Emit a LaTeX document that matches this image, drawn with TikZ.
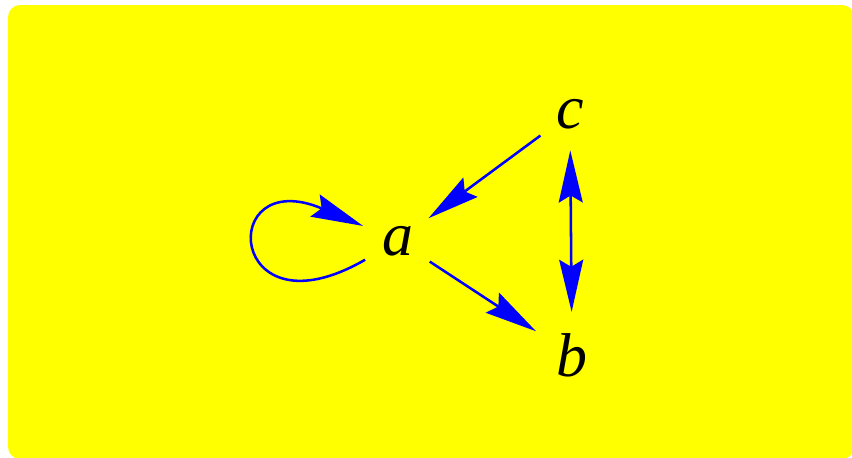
\documentclass[tikz,border=0pt]{standalone}
\usepackage{fontspec}
\setmainfont{Liberation Serif}
\usetikzlibrary{arrows.meta}
\definecolor{pad}{RGB}{255,255,0}
\definecolor{wire}{RGB}{0,0,255}

\begin{document}
\begin{tikzpicture}[
  x=0.0125cm, y=-0.0125cm,
  vertex/.style={
    circle, inner sep=4pt, anchor=base,
    font=\fontsize{22}{26}\selectfont\itshape
  },
  link/.style={
    -{Stealth[length=18.5pt, width=8.5pt, inset=2.5pt]},
    line width=0.9pt, draw=wire
  },
  duallink/.style={
    link, {Stealth[length=18.5pt, width=8.5pt, inset=2.5pt]}-{Stealth[length=18.5pt, width=8.5pt, inset=2.5pt]}
  }
]

% Page and background.
\useasboundingbox (0,0) rectangle (852,458);
\fill[pad, rounded corners=12*0.0125cm] (8,5) rectangle (854,459);

% Vertices.
\node[vertex] (a) at (398,255) {a};
\node[vertex] (b) at (572,376) {b};
\node[vertex] (c) at (570,128) {c};

% Relation arrows.
\draw[link] (a) to[out=210, in=157, distance=160*0.0125cm] (a);
\draw[link] (c) -- (a);
\draw[link] (a) -- (b);
\draw[duallink] (c) -- (b);

\end{tikzpicture}
\end{document}
